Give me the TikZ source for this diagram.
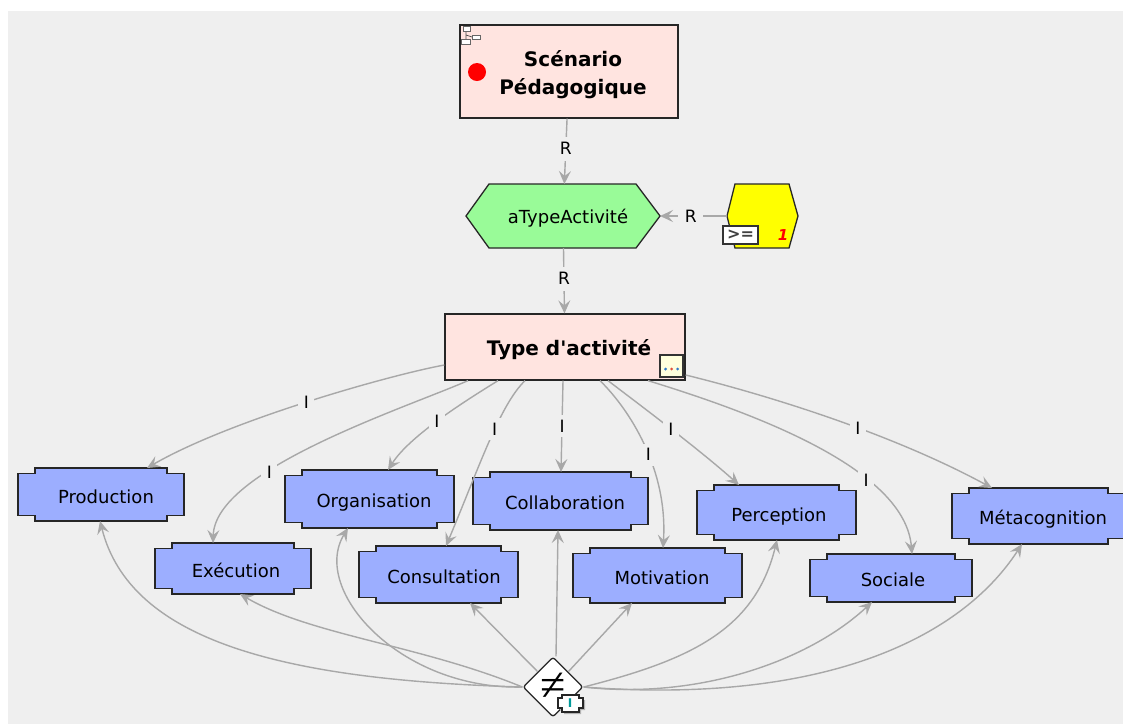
\documentclass[tikz,border=0pt]{standalone}
\usepackage{fontspec}
\setmainfont{DejaVu Sans}
\newfontfamily\plainf{DejaVu Sans}
\newfontfamily\symf{Liberation Serif}
\usetikzlibrary{arrows.meta,calc,shapes.geometric}
\definecolor{bgc}{HTML}{EFEFEF}
\definecolor{bluebox}{HTML}{9CAEFF}
\definecolor{pinkbox}{HTML}{FFE4E0}
\definecolor{greenbox}{HTML}{99FB98}
\definecolor{edgec}{HTML}{A8A8A8}
\definecolor{yel}{HTML}{FFFF00}
\definecolor{rd}{HTML}{FF0000}
\definecolor{cream}{HTML}{FFFFDD}
\definecolor{dotb}{HTML}{2F78C8}
\definecolor{dotr}{HTML}{E0503C}
\tikzset{
  inset/.style={rectangle,inner sep=0pt,outer sep=0pt},
  shapeline/.style={draw=black!85,line width=1.3pt,line join=miter},
  lnk/.style={draw=edgec,line width=1.4pt,-{Stealth[length=13pt,width=12pt,inset=5pt]}},
  labR/.style={fill=bgc,inner sep=0pt,minimum width=25pt,minimum height=24pt,font=\fontsize{17}{17}\selectfont,text=black},
  labI/.style={fill=bgc,inner sep=0pt,minimum width=16pt,minimum height=22pt,font=\fontsize{17}{17}\selectfont,text=black},
  conc/.style={font=\fontsize{18}{20}\selectfont,text height=17pt,text depth=0pt},
  titlef/.style={font=\fontsize{20}{28}\bfseries\selectfont,align=center},
}
% name, x0,y0,x1,y1, text, text x offset
\newcommand\notchbox[7]{%
  \draw[shapeline,fill=bluebox] (#2+17,#3)--(#4-17,#3)--(#4-17,#3+5.5)--(#4,#3+5.5)--(#4,#5-5.5)--(#4-17,#5-5.5)--(#4-17,#5)--(#2+17,#5)--(#2+17,#5-5.5)--(#2,#5-5.5)--(#2,#3+5.5)--(#2+17,#3+5.5)--cycle;
  \path let \n1={#4-#2},\n2={#5-#3} in node[inset,conc,minimum width=\n1 pt,minimum height=\n2 pt] (#1) at ({(#2+#4)/2},{(#3+#5)/2}) {\hspace*{#7pt}#6};
}
\begin{document}
\begin{tikzpicture}[x=1pt,y=-1pt]
\useasboundingbox (0,0) rectangle (1123,724);
\fill[white] (0,0) rectangle (1123,724);
\fill[bgc] (8,11) rectangle (1123,724);

% Scenario
\node[shapeline,fill=pinkbox,rectangle,inner sep=0pt,minimum width=218pt,minimum height=93pt,titlef] (scn) at (569,71.5) {\hspace*{8pt}\begin{tabular}{@{}c@{}}\rule{0pt}{26pt}Scénario\\Pédagogique\end{tabular}};
\fill[rd] (477,72) circle (9);
% small tree icon
\draw[black!70,line width=0.7pt] (466,31)--(466,39) (466,35)--(472,37);
\foreach \a/\b/\c/\d in {463/26/470/31, 472/35/480/39, 461/39/470/44}{
  \draw[black!60,fill=white,line width=0.7pt] (\a,\b) rectangle (\c,\d);}

% hexagons
\draw[shapeline,fill=greenbox] (466,216)--(489,184)--(636,184)--(660,216)--(636,248)--(489,248)--cycle;
\node[inset,minimum width=194pt,minimum height=64pt,conc,text height=14pt] (hex) at (563,216) {\hspace*{10pt}aTypeActivité};

\draw[shapeline,fill=yel] (727,216)--(735,184)--(789,184)--(798,216)--(789,248)--(735,248)--cycle;
\node[inset,minimum width=71pt,minimum height=64pt] (card) at (762.5,216) {};
\node[draw=black!80,fill=white,line width=1.2pt,inset,minimum width=35pt,minimum height=18pt,font=\fontsize{16}{16}\bfseries\selectfont,text=black!75] (op) at (740.5,235) {>=};
\node[text=rd,font=\fontsize{15}{15}\bfseries\itshape\selectfont,inset] (one) at (783,235) {1};

% Type
\node[shapeline,fill=pinkbox,rectangle,inner sep=0pt,minimum width=240pt,minimum height=66pt,font=\fontsize{20}{28}\bfseries\selectfont,text height=16pt,text depth=0pt] (tp) at (565,347) {\hspace*{8pt}\plainf\bfseries Type d'activité};
\node[draw=black!80,fill=cream,line width=1.2pt,inset,minimum width=23pt,minimum height=22pt] (more) at (671.5,366) {};
\foreach \xx/\cc in {665.5/dotb,671.5/dotr,677.5/dotb}
  \fill[\cc] (\xx,369) circle (1.5);

% concepts
\notchbox{prod}{18}{468}{184}{521}{Production}{10}
\notchbox{exec}{155}{543}{311}{594}{Exécution}{6}
\notchbox{orga}{285}{470}{454}{528}{Organisation}{9}
\notchbox{coll}{473}{472}{648}{530}{Collaboration}{9}
\notchbox{cons}{359}{546}{518}{603}{Consultation}{11}
\notchbox{moti}{573}{548}{742}{603}{Motivation}{9}
\notchbox{perc}{697}{485}{856}{540}{Perception}{5}
\notchbox{soci}{810}{554}{972}{602}{Sociale}{4}
\notchbox{meta}{952}{488}{1125}{544}{Métacognition}{9}

% diamond
\node[diamond,aspect=1,draw=black!85,line width=1.3pt,fill=white,rounded corners=2.5pt,inner sep=0pt,minimum width=60pt,minimum height=60pt,font=\fontsize{46}{46}\symf] (dif) at (553,687) {≠};

% connectors
\draw[lnk] (scn) -- node[labR,pos=.46]{R} (hex);
\draw[lnk] (card) -- node[labR,pos=.54]{R} (hex);
\draw[lnk] (hex) -- node[labR,pos=.47]{R} (tp);

\draw[lnk] ($(tp.west)+(0,18)$) .. controls (390,375) and (230,420) .. node[labI,pos=.5]{I} ($(prod.north)+(46,0)$);
\draw[lnk] ($(tp.south)+(-97,0)$) .. controls (400,410) and (215,470) .. node[labI,pos=.65]{I} ($(exec.north)+(-20,0)$);
\draw[lnk] ($(tp.south)+(-67,0)$) .. controls (470,398) and (410,435) .. node[labI,pos=.53]{I} ($(orga.north)+(18.5,0)$);
\draw[lnk] ($(tp.south)+(-40,0)$) .. controls (500,405) and (480,465) .. node[labI,pos=.42]{I} ($(cons.north)+(7.5,0)$);
\draw[lnk] ($(tp.south)+(-2,0)$) -- node[labI,pos=.5]{I} ($(coll.north)+(0.5,0)$);
\draw[lnk] ($(tp.south)+(35,0)$) .. controls (630,410) and (668,470) .. node[labI,pos=.55]{I} ($(moti.north)+(5.5,0)$);
\draw[lnk] ($(tp.south)+(43,0)$) .. controls (640,405) and (700,450) .. node[labI,pos=.5]{I} ($(perc.north)+(-37.5,0)$);
\draw[lnk] ($(tp.south)+(83,0)$) .. controls (760,415) and (905,470) .. node[labI,pos=.67]{I} ($(soci.north)+(21,0)$);
\draw[lnk] ($(tp.east)+(0,28)$) .. controls (755,392) and (885,430) .. node[labI,pos=.6]{I} ($(meta.north)+(-46.5,0)$);

\draw[lnk] (dif.west) .. controls (280,680) and (130,640) .. ($(prod.south)+(-1,0)$);
\draw[lnk] (dif.west) .. controls (420,645) and (310,635) .. ($(exec.south)+(7,0)$);
\draw[lnk] (dif.west) .. controls (400,690) and (310,590) .. ($(orga.south)+(-21.5,0)$);
\draw[lnk] (dif.north west) -- ($(cons.south)+(31.5,0)$);
\draw[lnk] ($(dif.north)+(3,0)$) -- ($(coll.south)+(-2.5,0)$);
\draw[lnk] (dif.north east) -- ($(moti.south)+(-25.5,0)$);
\draw[lnk] (dif.east) .. controls (690,660) and (755,630) .. ($(perc.south)+(0.5,0)$);
\draw[lnk] (dif.east) .. controls (700,700) and (810,660) .. ($(soci.south)+(-19,0)$);
\draw[lnk] (dif.east) .. controls (820,705) and (960,640) .. ($(meta.south)+(-16.5,0)$);

% badge
\fill[black!30] (564,697)--(581,697)--(581,700)--(585,700)--(585,710)--(581,710)--(581,714)--(564,714)--(564,710)--(560,710)--(560,700)--(564,700)--cycle;
\draw[draw=black!85,fill=white,line width=1.1pt] (562,695)--(579,695)--(579,698)--(583,698)--(583,708)--(579,708)--(579,712)--(562,712)--(562,708)--(558,708)--(558,698)--(562,698)--cycle;
\node[inset,text=teal!80!cyan,font=\fontsize{12}{12}\bfseries\selectfont] (ibadge) at (570,703.5) {I};
\end{tikzpicture}
\end{document}
